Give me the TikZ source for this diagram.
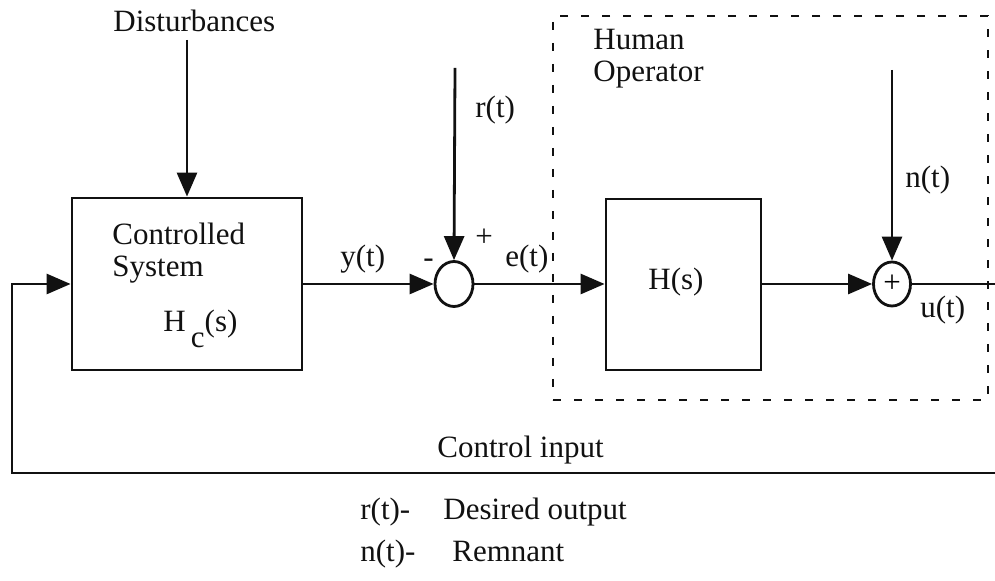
\documentclass[tikz,border=0pt]{standalone}
\usepackage{fontspec}
\setmainfont{Liberation Serif}
\usetikzlibrary{arrows.meta, shapes.geometric}
\definecolor{darkline}{HTML}{111111}
\tikzset{
  txt/.style={
    anchor=base west,
    inner sep=0pt,
    text=darkline,
    font=\fontsize{15.5}{18}\selectfont
  },
  block/.style={
    rectangle,
    draw=darkline,
    line width=1.4pt,
    minimum width=115pt,
    minimum height=86pt,
    inner sep=0pt,
    font=\fontsize{15.5}{18}\selectfont
  },
  junction/.style={
    ellipse,
    draw=darkline,
    line width=1.4pt,
    minimum width=19pt,
    minimum height=22.5pt,
    inner sep=0pt,
    font=\fontsize{15.5}{18}\selectfont
  },
  opbox/.style={
    rectangle,
    draw=darkline,
    line width=1.4pt,
    dash pattern=on 4pt off 6.5pt
  },
  flow/.style={
    -{Triangle[length=12pt, width=10pt]},
    line width=1.4pt,
    draw=darkline
  },
  wire/.style={
    line width=1.4pt,
    draw=darkline
  }
}
\begin{document}
\begin{tikzpicture}[x=0.5pt, y=-0.5pt]

% Page frame, in pixels of the original sheet.
\useasboundingbox (0,0) rectangle (995,581);

% Human operator panel.
\node[opbox, minimum width=217.5pt, minimum height=192pt] (operator) at (770.5,208) {};

% Blocks and summing points.
\node[block] (plant) at (187,284) {};
\node[block, minimum width=77.5pt, minimum height=85.5pt] (human) at (683.5,284.5) {};
\node[txt, anchor=base] (hs) at (676,290) {H(s)};
\node[junction] (sumerr) at (454,284) {};
\node[junction, minimum width=18.5pt, minimum height=22pt] (sumrem) at (892,284) {+};

% Free ends.
\coordinate (disttop) at (187,40);
\coordinate (reftop) at (455,68);
\coordinate (remtop) at (892,70);
\coordinate (uend) at (995,284);
\coordinate (fbright) at (995,473);
\coordinate (fbleft) at (12,473);

% Labels.
\node[txt] (dist) at (113,32) {Disturbances};
\node[txt] (ctrl) at (112,245) {Controlled};
\node[txt] (sys) at (112,277) {System};
\node[txt] (hc) at (163,332) {H\,\raisebox{-0.5em}{c}(s)};
\node[txt] (ylbl) at (340,267) {y(t)};
\node[txt] (minus) at (423,268) {-};
\node[txt] (plus) at (475,247) {+};
\node[txt] (elbl) at (505,267) {e(t)};
\node[txt] (rlbl) at (475,118) {r(t)};
\node[txt] (hum) at (593,50) {Human};
\node[txt] (oper) at (593,82) {Operator};
\node[txt] (nlbl) at (905,188) {n(t)};
\node[txt] (ulbl) at (920,318) {u(t)};
\node[txt] (cin) at (437,458) {Control input};

% Legend.
\node[txt] (rkey) at (360,520) {r(t)-};
\node[txt] (rdesc) at (443,520) {Desired output};
\node[txt] (nkey) at (360,562) {n(t)-};
\node[txt] (ndesc) at (452,562) {Remnant};

% Signal flows.
\draw[flow] (disttop) -- (plant.north);
\draw[flow] (plant.east) -- (sumerr.west);
\draw[flow] (reftop) -- (sumerr.north);
\draw[flow] (sumerr.east) -- (human.west |- sumerr.east);
\draw[flow] (human.east |- sumrem.west) -- (sumrem.west);
\draw[flow] (remtop) -- (sumrem.north);
\draw[wire] (sumrem.east) -- (uend);

% Feedback path.
\draw[flow] (fbright) -- (fbleft) |- (plant.west);

\end{tikzpicture}
\end{document}
